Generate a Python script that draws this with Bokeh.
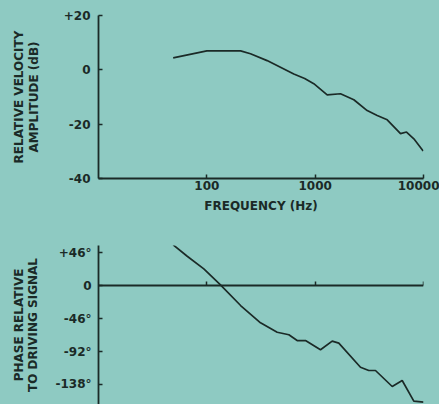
from bokeh.plotting import figure
from bokeh.layouts import column
from bokeh.models import Range1d, FixedTicker, LogAxis
from bokeh.embed import file_html
from bokeh.resources import INLINE

# ---- data ----
freq_amp = [48.9, 100, 205, 253, 360, 635, 800, 971, 1291, 1714, 2275, 3020,
            3738, 4624, 6138, 6970, 8145, 9930]
amp_db = [4.4, 7.0, 7.0, 5.9, 3.4, -1.5, -3.2, -5.1, -9.2, -8.8, -11.0, -15.0,
          -16.8, -18.4, -23.5, -22.9, -25.4, -29.9]

freq_phase = [48.9, 65.9, 93.8, 133.6, 205, 313, 446, 572, 682, 814, 1120,
              1436, 1653, 2620, 3126, 3603, 5142, 6359, 8140, 10000]
phase_deg = [56.7, 40.8, 23.3, 1.0, -27.9, -52, -65.1, -68.7, -76.7, -76.7,
             -89.6, -77.6, -80.4, -113.9, -118.5, -118.5, -140.8, -132.4,
             -161.3, -162.7]

x_ticks = [100, 1000, 10000]
x_tick_labels = ["100", "1000", "10000"]
amp_ticks = [20, 0, -20, -40]
amp_tick_labels = ["+20", "0", "-20", "-40"]
phase_ticks = [46, 0, -46, -92, -138]
phase_tick_labels = ["+46°", "0", "-46°", "-92°", "-138°"]

BG = "#8ecac2"
INK = "#1b2a27"
FONT = "DejaVu Sans"


def style_axis(ax, size="12px"):
    ax.axis_line_color = INK
    ax.axis_line_width = 1.8
    ax.major_tick_line_color = INK
    ax.major_tick_line_width = 1.5
    ax.minor_tick_line_color = None
    ax.major_tick_in = 4
    ax.major_tick_out = 0
    ax.major_label_text_font = FONT
    ax.major_label_text_font_size = size
    ax.major_label_text_font_style = "bold"
    ax.major_label_text_color = INK
    ax.axis_label_text_font = FONT
    ax.axis_label_text_font_size = "12px"
    ax.axis_label_text_font_style = "bold"
    ax.axis_label_text_color = INK
    ax.axis_label_text_line_height = 1.05


# ---- top: amplitude ----
p1 = figure(width=439, height=218, x_axis_type="log",
            x_range=Range1d(10, 10000), y_range=Range1d(-40, 20),
            output_backend="svg", toolbar_location=None,
            min_border_left=98, min_border_right=16,
            min_border_top=15, min_border_bottom=40)
p1.background_fill_color = BG
p1.border_fill_color = BG
p1.outline_line_color = None
p1.grid.visible = False

p1.line(freq_amp, amp_db, line_color=INK, line_width=1.7)

xa = p1.xaxis[0]
style_axis(xa)
xa.ticker = FixedTicker(ticks=x_ticks, minor_ticks=[])
xa.major_label_overrides = {t: l for t, l in zip(x_ticks, x_tick_labels)}
xa.major_label_standoff = 2
xa.axis_label = "FREQUENCY (Hz)"
xa.axis_label_standoff = 6

ya = p1.yaxis[0]
style_axis(ya)
ya.ticker = FixedTicker(ticks=amp_ticks, minor_ticks=[])
ya.major_label_overrides = {t: l for t, l in zip(amp_ticks, amp_tick_labels)}
ya.major_label_standoff = 8
ya.axis_label = "RELATIVE VELOCITY\nAMPLITUDE (dB)"
ya.axis_label_standoff = 20

# ---- bottom: phase ----
p2 = figure(width=439, height=186, x_axis_type="log", x_axis_location=None,
            x_range=Range1d(10, 10000), y_range=Range1d(-165.9, 55.8),
            output_backend="svg", toolbar_location=None,
            min_border_left=98, min_border_right=16,
            min_border_top=27, min_border_bottom=0)
p2.background_fill_color = BG
p2.border_fill_color = BG
p2.outline_line_color = None
p2.grid.visible = False

zero_axis = LogAxis(fixed_location=0)
style_axis(zero_axis)
zero_axis.ticker = FixedTicker(ticks=x_ticks, minor_ticks=[])
zero_axis.major_tick_in = 0
zero_axis.major_tick_out = 4
zero_axis.major_label_text_font_size = "0px"
zero_axis.major_label_text_color = None
p2.add_layout(zero_axis, "above")

p2.line(freq_phase, phase_deg, line_color=INK, line_width=1.7)

yb = p2.yaxis[0]
style_axis(yb)
yb.ticker = FixedTicker(ticks=phase_ticks, minor_ticks=[])
yb.major_label_overrides = {t: l for t, l in zip(phase_ticks, phase_tick_labels)}
yb.major_label_standoff = 7
yb.axis_label = "PHASE RELATIVE\nTO DRIVING SIGNAL"
yb.axis_label_standoff = 12

p = column(p1, p2, spacing=0)
p.styles = {"background-color": BG}

html = file_html(p, INLINE)
html = html.replace("<body>", '<body style="background-color: %s;">' % BG, 1)
open("out.html", "w").write(html)
